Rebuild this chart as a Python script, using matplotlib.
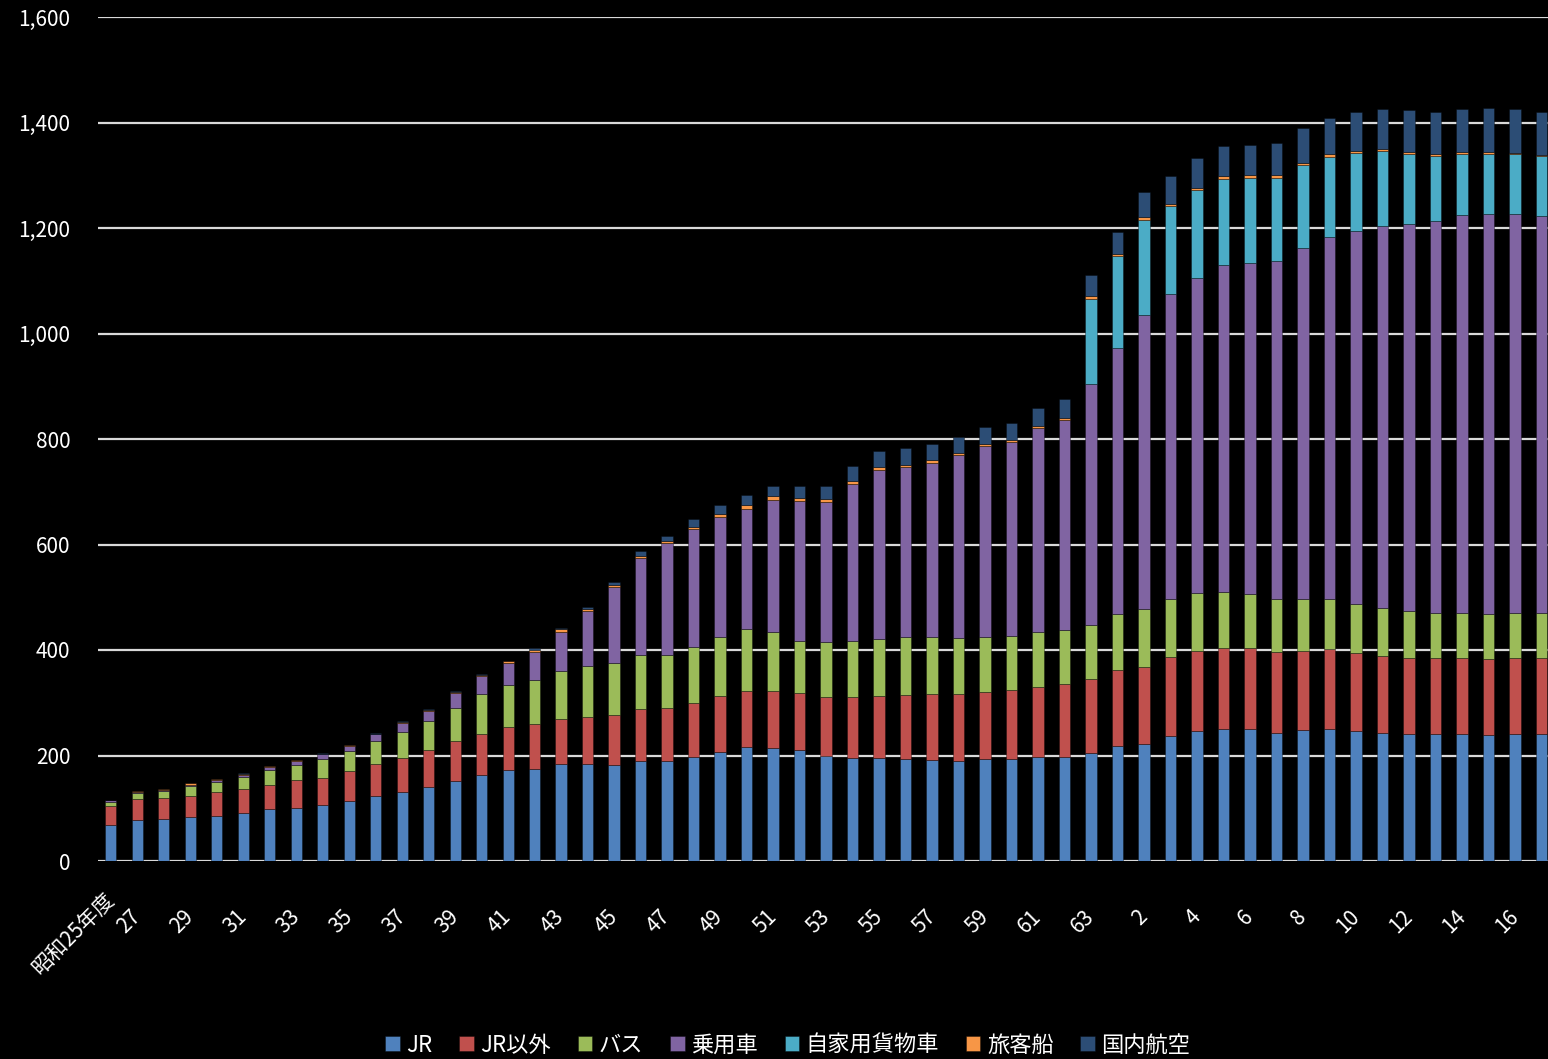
import matplotlib
matplotlib.use('Agg')
import matplotlib.pyplot as plt
import matplotlib.transforms as mtransforms
import numpy as np

plt.rcParams['font.family'] = ['Noto Sans CJK JP', 'DejaVu Sans']

# years: 昭和25, 昭和27..63, 平成元..17
years = ['昭和25年度'] + [str(y) for y in range(27, 64)] + ['元'] + [str(y) for y in range(2, 18)]

# 輸送人キロ (十億人キロ)
jr = [69, 78, 79, 84, 86, 91, 98, 100, 106, 114, 124, 131, 141, 152, 163, 173, 175, 184, 184, 182,
      190, 190, 197, 207, 216, 214, 210, 199, 195, 195, 194, 192, 190, 193, 194, 197, 198, 204, 218, 222,
      237, 247, 251, 251, 243, 248, 251, 247, 242, 240, 240, 240, 239, 240, 241]
jr_other = [35, 40, 40, 40, 44, 45, 47, 53, 52, 56, 60, 65, 69, 75, 78, 81, 84, 86, 89, 94,
            98, 100, 102, 106, 107, 109, 109, 112, 116, 117, 121, 124, 126, 128, 130, 133, 137, 141, 145, 146,
            150, 152, 152, 152, 153, 151, 151, 148, 147, 145, 144, 145, 143, 145, 144]
bus = [8, 11, 13, 18, 19, 23, 27, 29, 35, 38, 43, 49, 55, 63, 76, 80, 84, 90, 96, 100,
       103, 100, 107, 111, 116, 111, 99, 105, 107, 108, 109, 109, 106, 104, 102, 104, 102, 102, 106, 109,
       109, 109, 107, 103, 100, 97, 94, 92, 90, 88, 87, 85, 87, 85, 85]
car = [3, 2, 3, 3, 4, 4, 7, 7, 9, 10, 13, 17, 20, 28, 33, 42, 54, 75, 104, 143,
       183, 213, 223, 228, 229, 251, 265, 264, 297, 321, 323, 329, 347, 362, 368, 387, 399, 458, 504, 559,
       578, 597, 619, 628, 641, 667, 686, 707, 725, 735, 743, 755, 757, 757, 753]
truck = [0] * 37 + [161, 174, 180, 167, 167, 164, 161, 158, 157, 153, 148, 142, 133, 123, 116, 114, 113, 113]
ship = [1, 1, 1.5, 2, 2, 2, 1.5, 2, 1.5, 1.5, 1.5, 2, 2, 2, 2, 2.5, 2.5, 4, 4, 4,
        4, 3, 5, 6, 7, 6.5, 6, 6, 6, 5, 4.5, 6, 5, 4, 5, 4, 4.5, 5, 4, 4,
        5, 4.5, 5.5, 5, 5, 4, 4.5, 4.5, 3, 4, 2.5, 2.5, 3.5, 2.5, 2.5]
air = [0, 0, 0, 0.5, 0.5, 1, 0.5, 1, 0.5, 1, 0.5, 1.5, 1.5, 2.5, 2, 1.5, 4, 3, 4, 6,
       9.5, 11, 14, 16.5, 18, 20, 21, 25, 28, 31, 31.5, 31, 30, 32, 32, 33.5, 35.5, 39, 41, 48,
       53, 55.5, 57.5, 57.5, 61, 65, 69, 73, 76, 79, 80, 82, 83.5, 84, 81.5]

series = [('JR', jr, '#4F81BD'),
          ('JR以外', jr_other, '#C0504D'),
          ('バス', bus, '#9BBB59'),
          ('乗用車', car, '#8064A2'),
          ('自家用貨物車', truck, '#4BACC6'),
          ('旅客船', ship, '#F79646'),
          ('国内航空', air, '#2C4D75')]

fig = plt.figure(figsize=(15.48, 10.59), dpi=100, facecolor='black')
ax = fig.add_axes([98 / 1548, 1 - 861 / 1059, 1450 / 1548, 844 / 1059])
ax.set_facecolor('black')

x = np.arange(len(years))
bottom = np.zeros(len(years))
for name, vals, col in series:
    vals = np.array(vals, dtype=float)
    ax.bar(x, vals, 0.43, bottom=bottom, color=col, label=name,
           edgecolor=(0, 0, 0, 0.35), linewidth=0.7)
    bottom += vals

ax.set_xlim(-0.48, 54.24)
ax.set_ylim(0, 1600)
ax.set_yticks(np.arange(0, 1601, 200))
ax.set_yticklabels(['{:,}'.format(v) for v in range(0, 1601, 200)])
ax.grid(axis='y', color='#D9D9D9', linewidth=1.6)
ax.set_axisbelow(True)
for s in ax.spines.values():
    s.set_visible(False)
ax.tick_params(axis='y', length=0, pad=20, labelsize=15, labelcolor='white')
ax.tick_params(axis='x', length=0, pad=38, labelsize=15, labelcolor='white')

# label 昭和25 then every other year from 27
tick_pos = [0] + list(range(1, len(years), 2))
ax.set_xticks(tick_pos)
ax.set_xticklabels([years[i] for i in tick_pos], rotation=45, ha='right', va='center',
                   rotation_mode='anchor')
first = ax.get_xticklabels()[0]
first.set_transform(first.get_transform() +
                    mtransforms.ScaledTranslation(0, 18 / 100, fig.dpi_scale_trans))

leg = fig.legend(loc='center', bbox_to_anchor=(788 / 1548, 1 - 1045 / 1059), ncol=7,
                 frameon=False, fontsize=16, handlelength=0.65, handleheight=0.65,
                 handletextpad=0.3, columnspacing=1.2, borderaxespad=0)
for t in leg.get_texts():
    t.set_color('white')

fig.savefig('out.png', dpi=100, facecolor='black')
